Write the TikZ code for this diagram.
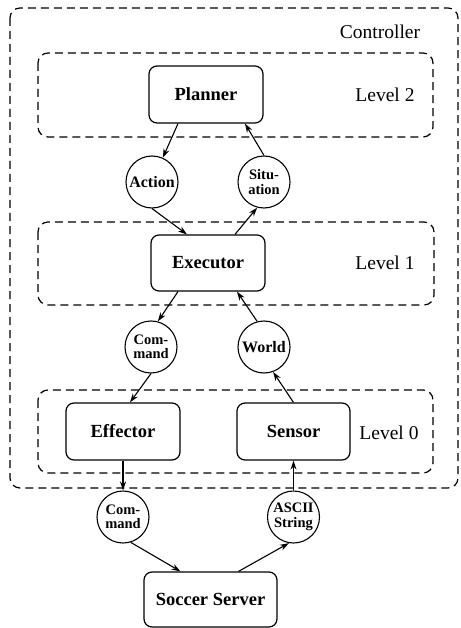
\documentclass[tikz,border=0pt]{standalone}
\usepackage{fontspec}
\setmainfont{Liberation Serif}
\usetikzlibrary{arrows.meta}
\begin{document}
\begin{tikzpicture}[x=1pt,y=-1pt,
  box/.style={draw, line width=1.2pt, rounded corners=8pt, minimum width=114pt, minimum height=57pt, inner sep=0pt, font=\fontsize{18.5}{20}\selectfont\bfseries},
  data/.style={draw, circle, line width=1.1pt, minimum size=52pt, inner sep=0pt, align=center, font=\fontsize{14.5}{14.5}\selectfont\bfseries},
  region/.style={draw, dash pattern=on 8pt off 5pt, line width=1.2pt, rounded corners=10pt},
  lbl/.style={font=\fontsize{19.5}{22}\selectfont, inner sep=0pt},
  arr/.style={line width=1.1pt, -{Stealth[length=9pt,width=6pt]}}
]
\useasboundingbox (0,0) rectangle (460,628);
% regions
\draw[region] (10,8) rectangle (458,488);
\draw[region] (38,53) rectangle (433,137);
\draw[region] (38,222) rectangle (434,305);
\draw[region] (38,390) rectangle (433,473);
\node[lbl] (ctrl) at (380,32) {Controller};
\node[lbl] (lv2) at (385,95) {Level 2};
\node[lbl] (lv1) at (385,263) {Level 1};
\node[lbl] (lv0) at (389,433) {Level 0};
% boxes
\node[box] (planner) at (206,94.5) {Planner};
\node[box, minimum height=56pt] (executor) at (208,263) {Executor};
\node[box] (effector) at (123,431.5) {Effector};
\node[box, minimum width=113pt] (sensor) at (293.5,431.5) {Sensor};
\node[box, minimum width=133pt, minimum height=55pt] (server) at (210.5,599.5) {Soccer Server};
% circles
\node[data, font=\fontsize{16}{16}\selectfont\bfseries] (action) at (152,182) {Action};
\node[data] (situation) at (264,182) {Situ-\\ation};
\node[data] (command) at (151,347) {Com-\\mand};
\node[data, font=\fontsize{16}{16}\selectfont\bfseries] (world) at (264,347) {World};
\node[data] (command2) at (123,517) {Com-\\mand};
\node[data] (ascii) at (293.5,517) {ASCII\\String};
% arrows
\draw[arr] ([xshift=-28pt]planner.south) -- (action);
\draw[arr] (situation.north) -- ([xshift=39pt]planner.south);
\draw[arr] (action.south) -- ([xshift=-21pt]executor.north);
\draw[arr] ([xshift=27pt]executor.north) -- (situation.-105);
\draw[arr] ([xshift=-30pt]executor.south) -- (command.75);
\draw[arr] (world.105) -- ([xshift=29pt]executor.south);
\draw[arr] (command.south) -- ([xshift=7pt]effector.north);
\draw[arr] (sensor.north) -- (world.-70);
\draw[arr] (effector.south) -- (command2.north);
\draw[arr] (ascii.north) -- (sensor.south);
\draw[arr] (command2.-73) -- ([xshift=-30pt]server.north);
\draw[arr] ([xshift=28pt]server.north) -- (ascii.-100);
\end{tikzpicture}
\end{document}
